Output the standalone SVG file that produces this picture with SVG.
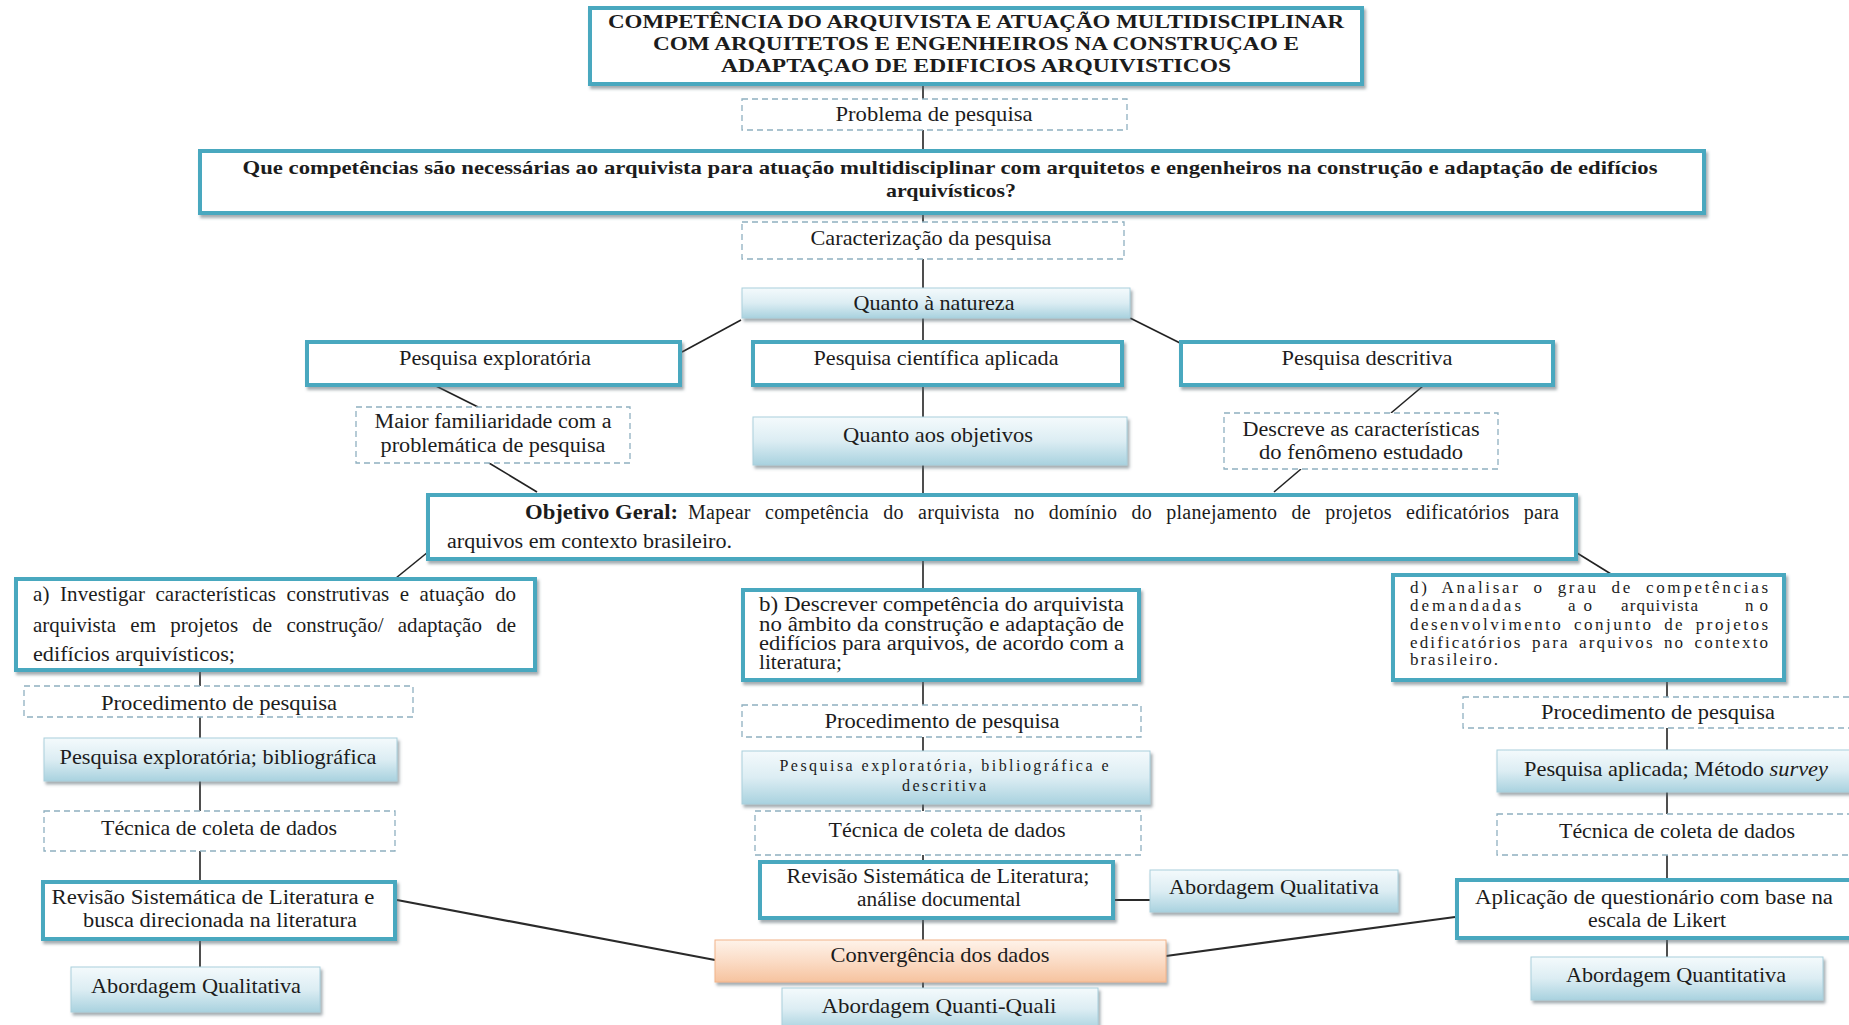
<svg xmlns="http://www.w3.org/2000/svg" width="1849" height="1025" viewBox="0 0 1849 1025">
  <defs>
    <linearGradient id="gBlue" x1="0" y1="0" x2="0" y2="1">
      <stop offset="0" stop-color="#f4fafc"/>
      <stop offset="0.5" stop-color="#dcedf3"/>
      <stop offset="1" stop-color="#a9d2df"/>
    </linearGradient>
    <linearGradient id="gOrange" x1="0" y1="0" x2="0" y2="1">
      <stop offset="0" stop-color="#fef3ea"/>
      <stop offset="0.5" stop-color="#fbdcc6"/>
      <stop offset="1" stop-color="#f6c39f"/>
    </linearGradient>
    <filter id="shadow" x="-5%" y="-20%" width="110%" height="150%">
      <feDropShadow dx="2" dy="3" stdDeviation="1.5" flood-color="#5a6a70" flood-opacity="0.55"/>
    </filter>
  </defs>
  <style>
    .teal { fill: #ffffff; stroke: #4aa8bf; stroke-width: 4; filter: url(#shadow); }
    .grad { fill: url(#gBlue); stroke: #a9cfdc; stroke-width: 1; filter: url(#shadow); }
    .orange { fill: url(#gOrange); stroke: #f2b48a; stroke-width: 1; filter: url(#shadow); }
    .dash { fill: #ffffff; stroke: #8fb0c0; stroke-width: 1.3; stroke-dasharray: 6 4; }
    .t { font-family: "Liberation Serif", "DejaVu Serif", serif; font-size: 21px; fill: #1c1c1c; }
    .c { text-anchor: middle; }
    .b { font-weight: bold; }
    .s { font-size: 17px; }
    .m { font-size: 20px; }
    .h { font-size: 19.5px; }
    .x { font-size: 16px; }
    .conn line { stroke: #222222; stroke-width: 1.6; }
    .conn line.thick { stroke-width: 2.2; stroke: #2a2a2a; }
  </style>
  <rect width="1849" height="1025" fill="#ffffff"/>

  <!-- connectors -->
  <g id="connectors" class="conn">
    <line x1="923" y1="84" x2="923" y2="99"/>
    <line x1="923" y1="130" x2="923" y2="151"/>
    <line x1="923" y1="213" x2="923" y2="222"/>
    <line x1="923" y1="259" x2="923" y2="288"/>
    <line x1="923" y1="318" x2="923" y2="342"/>
    <line x1="923" y1="386" x2="923" y2="417"/>
    <line x1="923" y1="465" x2="923" y2="494"/>
    <line x1="923" y1="561" x2="923" y2="589"/>
    <line x1="923" y1="682" x2="923" y2="705"/>
    <line x1="923" y1="737" x2="923" y2="751"/>
    <line x1="923" y1="804" x2="923" y2="811"/>
    <line x1="923" y1="855" x2="923" y2="861"/>
    <line x1="923" y1="920" x2="923" y2="940"/>
    <line x1="923" y1="982" x2="923" y2="1002"/>
    <line x1="741" y1="320" x2="682" y2="352"/>
    <line x1="1130" y1="318" x2="1180" y2="343"/>
    <line x1="436" y1="386" x2="478" y2="407"/>
    <line x1="489" y1="463" x2="537" y2="492"/>
    <line x1="1423" y1="386" x2="1391" y2="413"/>
    <line x1="1301" y1="469" x2="1274" y2="492"/>
    <line x1="428" y1="552" x2="396" y2="578"/>
    <line x1="1577" y1="553" x2="1611" y2="574"/>
    <line x1="200" y1="672" x2="200" y2="686"/>
    <line x1="200" y1="717" x2="200" y2="738"/>
    <line x1="200" y1="781" x2="200" y2="811"/>
    <line x1="200" y1="851" x2="200" y2="880"/>
    <line x1="200" y1="941" x2="200" y2="967"/>
    <line x1="1667" y1="682" x2="1667" y2="697"/>
    <line x1="1667" y1="728" x2="1667" y2="750"/>
    <line x1="1667" y1="792" x2="1667" y2="814"/>
    <line x1="1667" y1="855" x2="1667" y2="878"/>
    <line x1="1667" y1="940" x2="1667" y2="957"/>
    <line x1="1115" y1="900" x2="1150" y2="900" class="thick"/>
    <line x1="397" y1="900" x2="715" y2="960" class="thick"/>
    <line x1="1455" y1="917" x2="1166" y2="956" class="thick"/>
  </g>

  <g id="titulo">
    <rect class="teal" x="590" y="8" width="772" height="76"/>
    <text class="t h b c" x="976" y="28" textLength="736" lengthAdjust="spacingAndGlyphs">COMPETÊNCIA DO ARQUIVISTA E ATUAÇÃO MULTIDISCIPLINAR</text>
    <text class="t h b c" x="976" y="50" textLength="646" lengthAdjust="spacingAndGlyphs">COM ARQUITETOS E ENGENHEIROS NA CONSTRUÇAO E</text>
    <text class="t h b c" x="976" y="72" textLength="510" lengthAdjust="spacingAndGlyphs">ADAPTAÇAO DE EDIFICIOS ARQUIVISTICOS</text>
  </g>

  <g id="problema">
    <rect class="dash" x="742" y="99" width="385" height="31"/>
    <text class="t c" x="934" y="121" textLength="197" lengthAdjust="spacingAndGlyphs">Problema de pesquisa</text>
  </g>

  <g id="questao">
    <rect class="teal" x="200" y="151" width="1504" height="62"/>
    <text class="t h b c" x="950" y="174" textLength="1415" lengthAdjust="spacingAndGlyphs">Que competências são necessárias ao arquivista para atuação multidisciplinar com arquitetos e engenheiros na construção e adaptação de edifícios</text>
    <text class="t h b c" x="951" y="197" textLength="130" lengthAdjust="spacingAndGlyphs">arquivísticos?</text>
  </g>

  <g id="caracterizacao">
    <rect class="dash" x="742" y="222" width="382" height="37"/>
    <text class="t c" x="931" y="245" textLength="241" lengthAdjust="spacingAndGlyphs">Caracterização da pesquisa</text>
  </g>

  <g id="natureza">
    <rect class="grad" x="742" y="288" width="388" height="30"/>
    <text class="t c" x="934" y="310" textLength="161" lengthAdjust="spacingAndGlyphs">Quanto à natureza</text>
  </g>

  <g id="exploratoria">
    <rect class="teal" x="307" y="342" width="373" height="43"/>
    <text class="t c" x="495" y="365" textLength="192" lengthAdjust="spacingAndGlyphs">Pesquisa exploratória</text>
  </g>

  <g id="cientifica">
    <rect class="teal" x="753" y="342" width="369" height="43"/>
    <text class="t c" x="936" y="365" textLength="245" lengthAdjust="spacingAndGlyphs">Pesquisa científica aplicada</text>
  </g>

  <g id="descritiva">
    <rect class="teal" x="1181" y="342" width="372" height="43"/>
    <text class="t c" x="1367" y="365" textLength="171" lengthAdjust="spacingAndGlyphs">Pesquisa descritiva</text>
  </g>

  <g id="familiaridade">
    <rect class="dash" x="356" y="407" width="274" height="56"/>
    <text class="t m c" x="493" y="428" textLength="237" lengthAdjust="spacingAndGlyphs">Maior familiaridade com a</text>
    <text class="t m c" x="493" y="452" textLength="225" lengthAdjust="spacingAndGlyphs">problemática de pesquisa</text>
  </g>

  <g id="objetivos">
    <rect class="grad" x="753" y="417" width="374" height="48"/>
    <text class="t c" x="938" y="442" textLength="190" lengthAdjust="spacingAndGlyphs">Quanto aos objetivos</text>
  </g>

  <g id="descreve">
    <rect class="dash" x="1224" y="413" width="274" height="56"/>
    <text class="t m c" x="1361" y="436" textLength="237" lengthAdjust="spacingAndGlyphs">Descreve as características</text>
    <text class="t m c" x="1361" y="459" textLength="204" lengthAdjust="spacingAndGlyphs">do fenômeno estudado</text>
  </g>

  <g id="objetivo-geral">
    <rect class="teal" x="428" y="495" width="1148" height="64"/>
    <text class="t m b" x="525" y="519" textLength="153" lengthAdjust="spacingAndGlyphs">Objetivo Geral:</text>
    <text class="t m" x="688" y="519" word-spacing="9" textLength="871" lengthAdjust="spacing">Mapear competência do arquivista no domínio do planejamento de projetos edificatórios para</text>
    <text class="t m" x="447" y="548" textLength="285" lengthAdjust="spacingAndGlyphs">arquivos em contexto brasileiro.</text>
  </g>

  <g id="objetivo-a">
    <rect class="teal" x="16" y="579" width="519" height="91"/>
    <text class="t" x="33" y="601" word-spacing="5" textLength="483" lengthAdjust="spacing">a) Investigar características construtivas e atuação do</text>
    <text class="t" x="33" y="632" word-spacing="9" textLength="483" lengthAdjust="spacing">arquivista em projetos de construção/ adaptação de</text>
    <text class="t" x="33" y="661" textLength="202" lengthAdjust="spacingAndGlyphs">edifícios arquivísticos;</text>
  </g>

  <g id="objetivo-b">
    <rect class="teal" x="743" y="590" width="396" height="90"/>
    <text class="t m" x="759" y="611" textLength="365" lengthAdjust="spacingAndGlyphs">b) Descrever competência do arquivista</text>
    <text class="t m" x="759" y="631" textLength="365" lengthAdjust="spacingAndGlyphs">no âmbito da construção e adaptação de</text>
    <text class="t m" x="759" y="650" textLength="365" lengthAdjust="spacingAndGlyphs">edifícios para arquivos, de acordo com a</text>
    <text class="t m" x="759" y="669" textLength="83" lengthAdjust="spacingAndGlyphs">literatura;</text>
  </g>

  <g id="objetivo-d">
    <rect class="teal" x="1393" y="575" width="391" height="105"/>
    <text class="t s" x="1410" y="593" word-spacing="6" textLength="358" lengthAdjust="spacing">d) Analisar o grau de competências</text>
    <text class="t s" x="1410" y="611" textLength="111" lengthAdjust="spacing">demandadas</text>
    <text class="t s" x="1568" y="611" textLength="24" lengthAdjust="spacing">ao</text>
    <text class="t s" x="1621" y="611" textLength="77" lengthAdjust="spacing">arquivista</text>
    <text class="t s" x="1745" y="611" textLength="23" lengthAdjust="spacing">no</text>
    <text class="t s" x="1410" y="630" word-spacing="4" textLength="358" lengthAdjust="spacing">desenvolvimento conjunto de projetos</text>
    <text class="t s" x="1410" y="648" word-spacing="3" textLength="358" lengthAdjust="spacing">edificatórios para arquivos no contexto</text>
    <text class="t s" x="1410" y="665" textLength="88" lengthAdjust="spacing">brasileiro.</text>
  </g>

  <!-- left column -->
  <g id="procedimento-a">
    <rect class="dash" x="24" y="686" width="389" height="31"/>
    <text class="t c" x="219" y="710" textLength="236" lengthAdjust="spacingAndGlyphs">Procedimento de pesquisa</text>
  </g>
  <g id="tipo-a">
    <rect class="grad" x="44" y="738" width="353" height="43"/>
    <text class="t c" x="218" y="764" textLength="317" lengthAdjust="spacingAndGlyphs">Pesquisa exploratória; bibliográfica</text>
  </g>
  <g id="tecnica-a">
    <rect class="dash" x="44" y="811" width="351" height="40"/>
    <text class="t c" x="219" y="835" textLength="236" lengthAdjust="spacingAndGlyphs">Técnica de coleta de dados</text>
  </g>
  <g id="coleta-a">
    <rect class="teal" x="43" y="882" width="352" height="57"/>
    <text class="t m c" x="213" y="904" textLength="323" lengthAdjust="spacingAndGlyphs">Revisão Sistemática de Literatura e</text>
    <text class="t m c" x="220" y="927" textLength="274" lengthAdjust="spacingAndGlyphs">busca direcionada na literatura</text>
  </g>
  <g id="abordagem-a">
    <rect class="grad" x="71" y="967" width="249" height="45"/>
    <text class="t c" x="196" y="993" textLength="210" lengthAdjust="spacingAndGlyphs">Abordagem Qualitativa</text>
  </g>

  <!-- center column -->
  <g id="procedimento-b">
    <rect class="dash" x="742" y="705" width="399" height="32"/>
    <text class="t c" x="942" y="728" textLength="235" lengthAdjust="spacingAndGlyphs">Procedimento de pesquisa</text>
  </g>
  <g id="tipo-b">
    <rect class="grad" x="742" y="751" width="408" height="53"/>
    <text class="t x c" x="944" y="771" textLength="329" lengthAdjust="spacing">Pesquisa exploratória, bibliográfica e</text>
    <text class="t x c" x="944" y="791" textLength="84" lengthAdjust="spacing">descritiva</text>
  </g>
  <g id="tecnica-b">
    <rect class="dash" x="755" y="811" width="386" height="44"/>
    <text class="t c" x="947" y="837" textLength="237" lengthAdjust="spacingAndGlyphs">Técnica de coleta de dados</text>
  </g>
  <g id="coleta-b">
    <rect class="teal" x="760" y="862" width="353" height="56"/>
    <text class="t m c" x="938" y="883" textLength="303" lengthAdjust="spacingAndGlyphs">Revisão Sistemática de Literatura;</text>
    <text class="t m c" x="939" y="906" textLength="164" lengthAdjust="spacingAndGlyphs">análise documental</text>
  </g>
  <g id="abordagem-b">
    <rect class="grad" x="1150" y="870" width="248" height="42"/>
    <text class="t c" x="1274" y="894" textLength="210" lengthAdjust="spacingAndGlyphs">Abordagem Qualitativa</text>
  </g>
  <g id="convergencia">
    <rect class="orange" x="715" y="940" width="451" height="42"/>
    <text class="t c" x="940" y="962" textLength="219" lengthAdjust="spacingAndGlyphs">Convergência dos dados</text>
  </g>
  <g id="quanti-quali">
    <rect class="grad" x="782" y="988" width="316" height="42"/>
    <text class="t c" x="939" y="1013" textLength="235" lengthAdjust="spacingAndGlyphs">Abordagem Quanti-Quali</text>
  </g>

  <!-- right column -->
  <g id="procedimento-d">
    <rect class="dash" x="1463" y="697" width="400" height="31"/>
    <text class="t c" x="1658" y="719" textLength="234" lengthAdjust="spacingAndGlyphs">Procedimento de pesquisa</text>
  </g>
  <g id="tipo-d">
    <rect class="grad" x="1497" y="750" width="360" height="42"/>
    <text class="t c" x="1676" y="776" textLength="304" lengthAdjust="spacingAndGlyphs">Pesquisa aplicada; Método <tspan font-style="italic">survey</tspan></text>
  </g>
  <g id="tecnica-d">
    <rect class="dash" x="1497" y="814" width="360" height="41"/>
    <text class="t c" x="1677" y="838" textLength="236" lengthAdjust="spacingAndGlyphs">Técnica de coleta de dados</text>
  </g>
  <g id="coleta-d">
    <rect class="teal" x="1457" y="880" width="400" height="58"/>
    <text class="t m c" x="1654" y="904" textLength="358" lengthAdjust="spacingAndGlyphs">Aplicação de questionário com base na</text>
    <text class="t m c" x="1657" y="927" textLength="138" lengthAdjust="spacingAndGlyphs">escala de Likert</text>
  </g>
  <g id="abordagem-d">
    <rect class="grad" x="1531" y="957" width="292" height="43"/>
    <text class="t c" x="1676" y="982" textLength="220" lengthAdjust="spacingAndGlyphs">Abordagem Quantitativa</text>
  </g>
</svg>
